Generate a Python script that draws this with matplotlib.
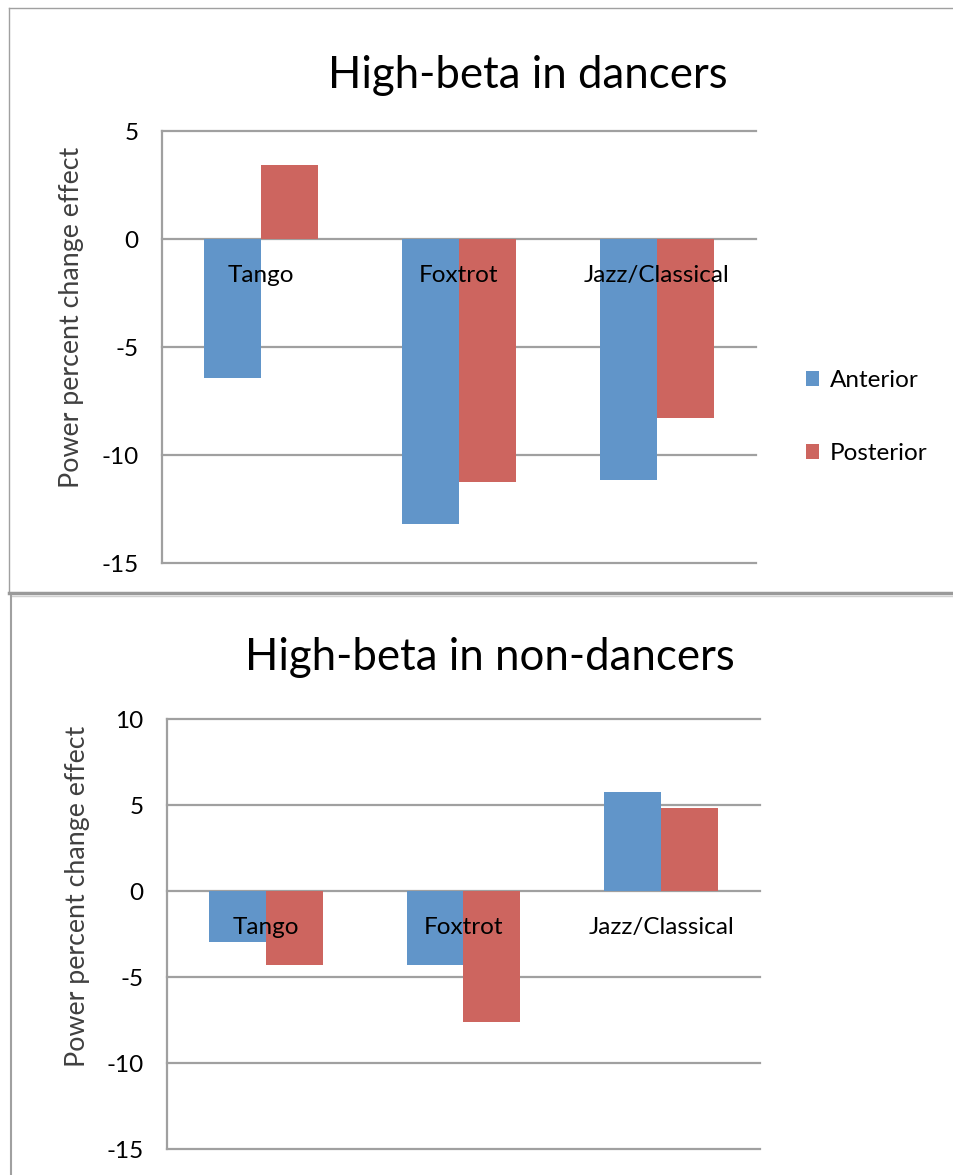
import matplotlib.pyplot as plt
import numpy as np
from matplotlib.lines import Line2D

# datos
categorias = ['Tango', 'Foxtrot', 'Jazz/Classical']
series = ['Anterior', 'Posterior']

bailarines_anterior = [-6.45, -13.2, -11.15]
bailarines_posterior = [3.42, -11.27, -8.3]

no_bailarines_anterior = [-2.95, -4.3, 5.76]
no_bailarines_posterior = [-4.3, -7.6, 4.83]

ticks_arriba = [5, 0, -5, -10, -15]
ticks_abajo = [10, 5, 0, -5, -10, -15]

# configuración
plt.rcParams['font.family'] = ['Lato', 'DejaVu Sans']
AZUL = '#6195C9'
ROJO = '#CD655F'
GRIS = '#A0A0A0'
TAM = 17.5

W, H = 954, 1175
fig = plt.figure(figsize=(W / 100, H / 100), dpi=100)


def caja(left, top, right, bottom):
    """pixeles -> coordenadas de figura"""
    return [left / W, 1 - bottom / H, (right - left) / W, (bottom - top) / H]


def linea(x0, y0, x1, y1, color=GRIS, lw=1.0):
    fig.add_artist(Line2D([x0 / W, x1 / W], [1 - y0 / H, 1 - y1 / H],
                          transform=fig.transFigure, color=color, lw=lw))


def grafico_barras(rect, anterior, posterior, ticks, titulo, pos_titulo, pos_ylabel):
    ax = fig.add_axes(rect)
    x = np.arange(len(categorias))
    w = 0.288
    b1 = ax.bar(x - w / 2, anterior, w, color=AZUL, label=series[0], zorder=2)
    b2 = ax.bar(x + w / 2, posterior, w, color=ROJO, label=series[1], zorder=2)

    ax.set_xlim(-0.5, len(categorias) - 0.5)
    ax.set_ylim(min(ticks), max(ticks))
    for t in ticks:
        ax.axhline(t, color=GRIS, lw=1.6, zorder=1, clip_on=False)

    for s in ['top', 'right', 'bottom']:
        ax.spines[s].set_visible(False)
    ax.spines['left'].set_color(GRIS)
    ax.spines['left'].set_linewidth(1.6)

    ax.set_xticks([])
    ax.set_yticks(ticks)
    ax.set_yticklabels([str(t) for t in ticks])
    ax.tick_params(axis='y', length=0, pad=17, labelsize=TAM)

    # etiquetas de categoría junto al eje cero
    for i, c in enumerate(categorias):
        ax.annotate(c, (i, 0), xytext=(0, -26), textcoords='offset points',
                    ha='center', va='center', fontsize=TAM, zorder=5)

    fig.text(pos_titulo[0] / W, 1 - pos_titulo[1] / H, titulo,
             ha='center', va='center', fontsize=31.5)
    fig.text(pos_ylabel[0] / W, 1 - pos_ylabel[1] / H, 'Power percent change effect',
             ha='center', va='center', rotation=90, fontsize=19.3, color='#404040')
    return ax, b1, b2


ax1, b1, b2 = grafico_barras(caja(162, 131, 756, 563), bailarines_anterior,
                             bailarines_posterior, ticks_arriba,
                             'High-beta in dancers', (528, 75), (72, 317))
ax2, _, _ = grafico_barras(caja(167, 719, 760, 1149), no_bailarines_anterior,
                           no_bailarines_posterior, ticks_abajo,
                           'High-beta in non-dancers', (490, 657), (78, 896))

fig.legend(handles=[b1, b2], labels=series, loc='center left',
           bbox_to_anchor=(784 / W, 1 - 417 / H), frameon=False, fontsize=TAM,
           handlelength=0.55, handleheight=0.55, handletextpad=0.45, labelspacing=2.15)

# bordes de los paneles
linea(9, 7.5, W, 7.5)
linea(9, 7.5, 9, 593)
linea(9, 593, W, 593, color='#9A9A9A', lw=2.5)
linea(11, 596, W, 596, color='#D0D0D0', lw=1.0)
linea(11, 596, 11, H, lw=1.5)

fig.savefig('out.png', dpi=100)
